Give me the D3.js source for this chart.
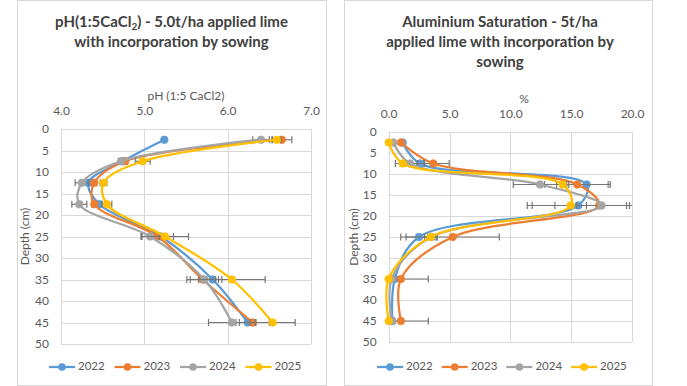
<!DOCTYPE html>
<html>
<head>
<meta charset="utf-8">
<script src="https://cdn.jsdelivr.net/npm/d3@7"></script>
<style>
  html, body { margin: 0; padding: 0; background: #fff; }
  svg { display: block; font-family: Lato, "Open Sans", sans-serif; }
</style>
</head>
<body>
<div id="root"></div>
<script>
// Data
const depths = [2.5, 7.5, 12.5, 17.5, 25, 35, 45];
const years = ["2022", "2023", "2024", "2025"];
const depthTicks = [0, 5, 10, 15, 20, 25, 30, 35, 40, 45, 50];

const phTicks = [4, 5, 6, 7];
const ph2022 = [5.24, 4.74, 4.33, 4.46, 5.2, 5.82, 6.24];
const ph2023 = [6.65, 4.77, 4.4, 4.4, 5.16, 5.7, 6.3];
const ph2024 = [6.4, 4.72, 4.25, 4.22, 5.07, 5.72, 6.05];
const ph2025 = [6.59, 4.98, 4.51, 4.55, 5.25, 6.05, 6.54];
const phErr2022 = [0, 0.04, 0.03, 0.03, 0.05, 0.07, 0.1];
const phErr2023 = [0.12, 0.03, 0.03, 0.03, 0.19, 0.15, 0.2];
const phErr2024 = [0.1, 0.03, 0.08, 0.09, 0.11, 0.21, 0.28];
const phErr2025 = [0.05, 0.09, 0.04, 0.06, 0.28, 0.4, 0.27];

const alTicks = [0, 5, 10, 15, 20];
const al2022 = [1.15, 2.57, 16.27, 15.59, 2.49, 0.5, 0.3];
const al2023 = [1.01, 3.67, 15.51, 17.3, 5.26, 1.0, 1.0];
const al2024 = [0.38, 1.75, 12.44, 17.5, 3.5, 0.25, 0.25];
const al2025 = [0.0, 1.15, 14.3, 14.96, 3.45, 0.0, 0.0];
const alErr2022 = [0, 0.3, 1.77, 4.2, 1.5, 0, 0];
const alErr2023 = [0, 1.3, 2.7, 5.5, 3.83, 2.25, 2.25];
const alErr2024 = [0, 1.2, 2.2, 2.05, 0.3, 0.2, 0.2];
const alErr2025 = [0, 0.2, 0.5, 1.3, 0.5, 0, 0];

const colors = ["#5B9BD5", "#ED7D31", "#A5A5A5", "#FFC000"];
const gridColor = "#d9d9d9";
const textColor = "#595959";
const titleColor = "#404040";

const width = 687;
const height = 386;

const svg = d3
  .select("#root")
  .append("svg")
  .attr("width", width)
  .attr("height", height)
  .attr("viewBox", `0 0 ${width} ${height}`);

const drawChart = (cfg) => {
  const g = svg.append("g");

  // chart frame
  g.append("rect")
    .attr("x", cfg.box.x + 0.5)
    .attr("y", cfg.box.y + 0.5)
    .attr("width", cfg.box.w)
    .attr("height", cfg.box.h)
    .attr("fill", "#fff")
    .attr("stroke", gridColor);

  // title
  const title = g
    .append("text")
    .attr("x", cfg.titleX)
    .attr("text-anchor", "middle")
    .attr("font-size", 15)
    .attr("font-weight", "bold")
    .attr("fill", titleColor);
  cfg.titleLines.forEach((line, i) => {
    const t = title
      .append("tspan")
      .attr("x", cfg.titleX)
      .attr("y", cfg.titleY + i * 20);
    line.forEach((part) => {
      if (part.sub) {
        t.append("tspan").attr("font-size", 10).attr("dy", 3).text(part.sub);
        t.append("tspan").attr("dy", -3).text(part.text || "");
      } else {
        t.append("tspan").text(part.text);
      }
    });
  });

  const x = d3
    .scaleLinear()
    .domain([cfg.ticks[0], cfg.ticks[cfg.ticks.length - 1]])
    .range([cfg.plot.x0, cfg.plot.x1]);
  const y = d3
    .scaleLinear()
    .domain([0, 50])
    .range([cfg.plot.y0, cfg.plot.y1]);

  // gridlines
  g.append("g")
    .selectAll("line")
    .data(cfg.ticks)
    .join("line")
    .attr("x1", (d) => Math.round(x(d)) + 0.5)
    .attr("x2", (d) => Math.round(x(d)) + 0.5)
    .attr("y1", y(0))
    .attr("y2", y(50))
    .attr("stroke", gridColor);
  g.append("g")
    .selectAll("line")
    .data(depthTicks)
    .join("line")
    .attr("x1", x.range()[0])
    .attr("x2", x.range()[1])
    .attr("y1", (d) => Math.round(y(d)) + 0.5)
    .attr("y2", (d) => Math.round(y(d)) + 0.5)
    .attr("stroke", gridColor);

  // axes (top x, left y) using d3 axes with hidden lines
  const xAxis = g
    .append("g")
    .attr("transform", `translate(0, ${cfg.plot.y0 - 11})`)
    .call(d3.axisTop(x).tickValues(cfg.ticks).tickFormat(d3.format(".1f")).tickSize(0));
  const yAxis = g
    .append("g")
    .attr("transform", `translate(${cfg.plot.x0 - 9}, 0)`)
    .call(d3.axisLeft(y).tickValues(depthTicks).tickSize(0));
  [xAxis, yAxis].forEach((a) => {
    a.select(".domain").remove();
    a.selectAll("text")
      .attr("font-family", "Lato, sans-serif")
      .attr("font-size", 12)
      .attr("fill", textColor);
  });

  // axis titles
  g.append("text")
    .attr("x", cfg.xTitleX)
    .attr("y", cfg.plot.y0 - 29)
    .attr("text-anchor", "middle")
    .attr("font-size", 12)
    .attr("fill", textColor)
    .text(cfg.xTitle);
  const yMid = (cfg.plot.y0 + cfg.plot.y1) / 2;
  g.append("text")
    .attr("transform", `translate(${cfg.yTitleX}, ${yMid}) rotate(-90)`)
    .attr("text-anchor", "middle")
    .attr("dominant-baseline", "middle")
    .attr("font-size", 12)
    .attr("fill", textColor)
    .text("Depth (cm)");

  // clip for error bars
  const clipId = "clip" + cfg.id;
  svg.append("clipPath")
    .attr("id", clipId)
    .append("rect")
    .attr("x", cfg.plot.x0)
    .attr("y", cfg.plot.y0 - 10)
    .attr("width", cfg.plot.x1 - cfg.plot.x0)
    .attr("height", cfg.plot.y1 - cfg.plot.y0 + 10);

  const line = d3
    .line()
    .x((d) => x(d.v))
    .y((d) => y(d.depth))
    .curve(d3.curveCatmullRom.alpha(0.5));

  cfg.series.forEach((s, i) => {
    const pts = depths.map((depth, j) => ({ depth, v: s.values[j], e: s.errors[j] }));
    const sg = g.append("g");

    // error bars
    const eb = sg.append("g").attr("clip-path", `url(#${clipId})`);
    pts.filter((p) => p.e > 0).forEach((p) => {
      const yy = y(p.depth);
      const xl = x(p.v - p.e);
      const xr = x(p.v + p.e);
      eb.append("line")
        .attr("x1", xl).attr("x2", xr).attr("y1", yy).attr("y2", yy)
        .attr("stroke", "#767676").attr("stroke-width", 1.2);
      [xl, xr].forEach((xx) =>
        eb.append("line")
          .attr("x1", xx).attr("x2", xx).attr("y1", yy - 3.5).attr("y2", yy + 3.5)
          .attr("stroke", "#767676").attr("stroke-width", 1.2)
      );
    });

    sg.append("path")
      .datum(pts)
      .attr("d", line)
      .attr("fill", "none")
      .attr("stroke", colors[i])
      .attr("stroke-width", 2.25);

    sg.selectAll("circle")
      .data(pts)
      .join("circle")
      .attr("cx", (d) => x(d.v))
      .attr("cy", (d) => y(d.depth))
      .attr("r", 3.8)
      .attr("fill", colors[i])
      .attr("stroke", colors[i])
      .attr("stroke-width", 0.75);
  });

  // legend
  const lg = g.append("g").attr("transform", `translate(0, ${cfg.legendY})`);
  years.forEach((yr, i) => {
    const lx = cfg.legendX + i * cfg.legendStep;
    lg.append("line")
      .attr("x1", lx).attr("x2", lx + 26)
      .attr("stroke", colors[i]).attr("stroke-width", 2.25);
    lg.append("circle")
      .attr("cx", lx + 13).attr("r", 3.8).attr("fill", colors[i]);
    lg.append("text")
      .attr("x", lx + 29)
      .attr("dominant-baseline", "middle")
      .attr("font-size", 11.5)
      .attr("fill", textColor)
      .text(yr);
  });
};

drawChart({
  id: "ph",
  box: { x: 17, y: 0, w: 309, h: 385 },
  plot: { x0: 61, x1: 311, y0: 129, y1: 344 },
  titleX: 171.5,
  titleY: 27,
  titleLines: [
    [{ text: "pH(1:5CaCl" }, { sub: "2", text: ") - 5.0t/ha applied lime" }],
    [{ text: "with incorporation by sowing" }]
  ],
  xTitle: "pH (1:5 CaCl2)",
  xTitleX: 186,
  yTitleX: 26,
  ticks: phTicks,
  series: [
    { values: ph2022, errors: phErr2022 },
    { values: ph2023, errors: phErr2023 },
    { values: ph2024, errors: phErr2024 },
    { values: ph2025, errors: phErr2025 }
  ],
  legendX: 49,
  legendStep: 65.5,
  legendY: 367
});

drawChart({
  id: "al",
  box: { x: 344, y: 0, w: 308, h: 385 },
  plot: { x0: 388.7, x1: 632, y0: 132, y1: 342 },
  titleX: 500,
  titleY: 27,
  titleLines: [
    [{ text: "Aluminium Saturation - 5t/ha" }],
    [{ text: "applied lime with incorporation by" }],
    [{ text: "sowing" }]
  ],
  xTitle: "%",
  xTitleX: 524,
  yTitleX: 355,
  ticks: alTicks,
  series: [
    { values: al2022, errors: alErr2022 },
    { values: al2023, errors: alErr2023 },
    { values: al2024, errors: alErr2024 },
    { values: al2025, errors: alErr2025 }
  ],
  legendX: 377,
  legendStep: 64.7,
  legendY: 367
});
</script>
</body>
</html>
